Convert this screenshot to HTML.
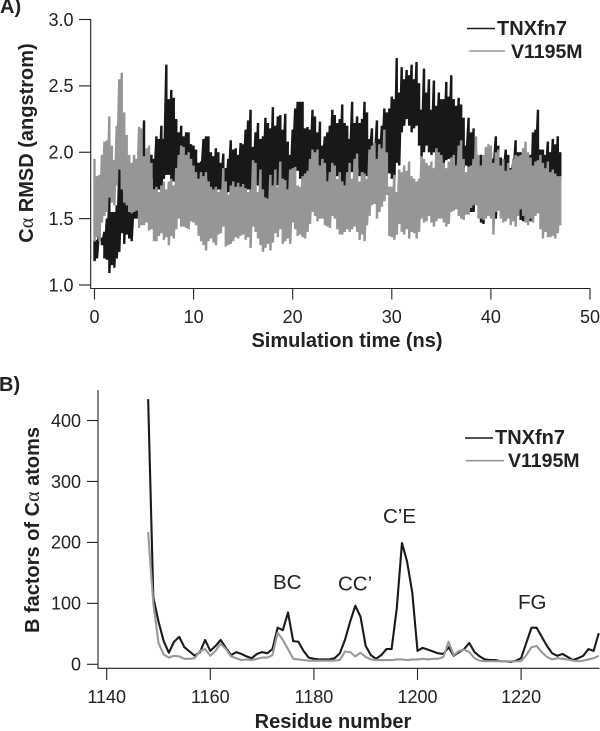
<!DOCTYPE html>
<html lang="en">
<head>
<meta charset="utf-8">
<title>RMSD and B factors chart</title>
<style>
html,body{margin:0;padding:0;background:#fff;width:600px;height:731px;overflow:hidden}
svg{display:block;font-family:"Liberation Sans",sans-serif;fill:#222}
.tick{font-size:18px}
.title{font-size:20px;font-weight:bold}
.leg{font-size:20px;font-weight:bold}
.leg2{font-size:19.5px;font-weight:bold}
.panel{font-size:20px;font-weight:bold}
.note{font-size:20.5px}
</style>
</head>
<body>
<svg id="chart" xmlns="http://www.w3.org/2000/svg" width="600" height="731" viewBox="0 0 600 731">
  <text class="panel" x="0" y="13">A)</text>
  <text class="panel" x="-1" y="391">B)</text>

  <g id="panelA"></g>
  <g id="panelB"></g>

  <text class="title" transform="translate(33,143) rotate(-90)" text-anchor="middle">C<tspan font-family="Liberation Serif" font-weight="normal">α</tspan> RMSD (angstrom)</text>
  <text class="title" x="347" y="347" text-anchor="middle">Simulation time (ns)</text>
  <text class="title" transform="translate(39,530) rotate(-90)" text-anchor="middle">B factors of C<tspan font-family="Liberation Serif" font-weight="normal">α</tspan> atoms</text>
  <text class="title" x="333" y="728" text-anchor="middle">Residue number</text>

  <g>
    <line x1="467" x2="495" y1="28.5" y2="28.5" stroke="#1a1a1a" stroke-width="1.6"/>
    <text class="leg" x="497" y="35">TNXfn7</text>
    <line x1="469" x2="505" y1="51" y2="51" stroke="#999" stroke-width="1.6"/>
    <text class="leg2" x="511" y="58">V1195M</text>
  </g>
  <g>
    <line x1="465" x2="493" y1="438" y2="438" stroke="#1a1a1a" stroke-width="1.6"/>
    <text class="leg" x="495" y="444">TNXfn7</text>
    <line x1="466" x2="504" y1="460.7" y2="460.7" stroke="#999" stroke-width="1.6"/>
    <text class="leg2" x="508" y="467">V1195M</text>
  </g>

  <text class="note" x="273" y="589">BC</text>
  <text class="note" x="338" y="590.5">CC’</text>
  <text class="note" x="383" y="523">C’E</text>
  <text class="note" x="518" y="609">FG</text>
</svg>
<script>
// Panel A: per-quarter-ns upper and lower extents of each RMSD trace (angstrom)
const rmsdStep = 0.25;
const tnxHigh = [
1.33,1.34,1.45,1.35, 1.4,1.5,1.66,1.55, 1.55,1.6,1.87,1.85, 1.7,1.93,1.8,1.75,
1.7,1.75,1.95,2.1, 2.24,1.95,2.0,1.98, 1.95,2.12,2.1,2.2, 2.1,2.66,2.4,2.47,
2.41,2.25,2.15,2.2, 2.12,2.15,2.15,2.06, 2.05,2.02,1.92,1.93, 2.1,2.12,2.12,2.0,
1.97,2.03,2.0,1.92, 1.99,1.88,1.95,2.09, 2.02,2.03,1.98,2.07, 2.06,2.17,2.24,2.32,
2.04,2.15,2.22,2.1, 2.12,2.26,2.22,2.18, 2.34,2.2,2.27,2.28, 2.17,2.29,2.08,1.98,
2.17,2.33,2.38,2.38, 2.38,2.18,2.19,2.17, 2.32,2.27,2.15,2.23, 2.05,2.12,2.15,2.2,
2.32,2.28,2.22,2.25, 2.36,2.22,2.2,2.1, 2.38,2.22,2.27,2.22, 2.25,2.38,2.3,2.1,
2.18,2.05,2.24,2.1, 2.2,2.33,2.3,2.33, 2.42,2.4,2.71,2.45, 2.64,2.55,2.62,2.58,
2.66,2.55,2.68,2.52, 2.32,2.63,2.45,2.55, 2.32,2.54,2.35,2.45, 2.4,2.4,2.53,2.42,
2.58,2.4,2.35,2.41, 2.36,2.26,2.05,2.26, 2.15,2.18,2.02,1.95, 1.98,1.95,1.95,1.98,
2.0,1.95,2.12,2.05, 1.96,1.9,2.02,1.98, 1.88,1.92,2.09,2.0, 2.0,1.95,2.0,1.97,
1.98,2.15,2.17,2.32, 2.02,2.02,1.98,2.08, 2.0,2.1,2.06,2.12, 2.0];
const tnxLow = [
1.18,1.2,1.34,1.3, 1.2,1.19,1.09,1.15, 1.13,1.2,1.25,1.39, 1.31,1.38,1.35,1.33,
1.5,1.5,1.55,1.6, 1.75,1.8,1.87,1.8, 1.72,1.7,1.72,1.7, 1.8,1.83,1.83,1.78,
1.78,1.7,1.8,1.88, 1.85,1.85,1.85,1.8, 1.78,1.8,1.75,1.78, 1.78,1.8,1.78,1.72,
1.7,1.68,1.72,1.7, 1.75,1.65,1.7,1.7, 1.68,1.72,1.72,1.7, 1.72,1.7,1.72,1.68,
1.72,1.75,1.75,1.7, 1.65,1.62,1.6,1.66, 1.75,1.75,1.75,1.72, 1.8,1.72,1.65,1.72,
1.85,1.88,1.86,1.8, 1.72,1.78,1.75,1.8, 1.8,1.75,1.7,1.7, 1.9,1.85,1.78,1.82,
1.85,1.8,1.82,1.78, 1.78,1.75,1.8,1.85, 1.85,1.85,1.88,1.82, 1.85,1.82,1.82,1.95,
1.95,1.9,1.95,1.9, 1.9,1.95,1.85,1.84, 1.8,1.75,1.92,1.9, 2.15,2.2,2.25,2.2,
2.15,2.18,2.2,2.05, 1.95,2.0,2.05,2.0, 1.98,2.0,2.0,1.95, 1.95,1.92,1.94,1.95,
1.95,1.96,1.9,1.9, 1.88,1.88,1.9,1.88, 1.55,1.55,1.9,1.85, 1.47,1.46,1.85,1.8,
1.85,1.85,1.5,1.85, 1.8,1.8,1.8,1.75, 1.8,1.8,1.8,1.82, 1.49,1.48,1.85,1.8,
1.48,1.8,1.85,1.9, 1.85,1.8,1.78,1.72, 1.7,1.73,1.72,1.75, 1.8];
const mutHigh = [
1.95,1.82,1.83,1.98, 2.08,2.09,2.27,2.05, 1.94,2.2,2.55,2.6, 2.3,2.13,1.98,1.92,
1.98,1.95,2.19,2.18, 1.97,2.03,2.05,1.92, 1.72,1.74,1.7,1.75, 1.78,1.72,1.78,1.8,
1.75,1.88,1.98,2.05, 2.04,1.98,2.0,1.95, 1.9,1.85,1.8,1.85, 1.82,1.85,1.78,1.74,
1.72,1.74,1.7,1.72, 1.88,1.78,1.68,1.75, 1.78,1.74,1.77,1.74, 1.76,1.73,1.7,1.72,
1.94,1.92,1.7,1.87, 1.72,1.66,1.65,1.83, 1.75,1.87,1.74,1.93, 1.8,1.79,1.72,1.87,
1.88,1.89,1.75,1.74, 1.82,1.84,1.86,1.95, 2.02,2.0,2.02,1.9, 1.95,1.92,1.78,1.85,
1.92,1.9,1.8,1.85, 1.78,1.75,1.85,1.92, 1.8,1.95,1.99,1.78, 1.85,1.84,1.8,2.02,
2.05,2.07,1.95,2.06, 2.03,2.17,2.0,1.74, 1.74,1.83,1.7,1.87, 1.85,1.9,1.86,1.93,
1.82,1.8,1.78,1.8, 1.97,1.95,1.92,1.9, 1.93,1.88,2.03,2.0, 1.98,1.92,1.88,1.93,
1.96,1.98,1.9,2.05, 2.09,1.95,1.85,1.89, 1.9,1.95,2.12,1.98, 1.9,1.98,2.04,2.06,
2.05,1.92,2.0,2.02, 1.9,1.95,1.86,1.92, 1.87,1.95,1.98,1.97, 1.98,2.03,2.08,2.0,
1.96,1.9,1.93,1.94, 1.98,1.92,1.88,1.93, 1.85,1.87,1.84,1.82, 1.82];
const mutLow = [
1.33,1.36,1.33,1.47, 1.52,1.55,1.66,1.62, 1.6,1.75,1.87,1.72, 1.62,1.6,1.55,1.54,
1.55,1.56,1.43,1.45, 1.45,1.47,1.41,1.42, 1.33,1.33,1.37,1.39, 1.34,1.36,1.3,1.37,
1.35,1.42,1.5,1.44, 1.44,1.43,1.42,1.48, 1.47,1.45,1.37,1.33, 1.3,1.26,1.33,1.35,
1.32,1.3,1.38,1.39, 1.44,1.29,1.3,1.31, 1.33,1.36,1.35,1.37, 1.38,1.34,1.36,1.28,
1.44,1.4,1.35,1.3, 1.25,1.28,1.31,1.26, 1.32,1.39,1.36,1.42, 1.31,1.33,1.35,1.31,
1.47,1.42,1.37,1.38, 1.36,1.35,1.4,1.46, 1.55,1.52,1.48,1.5, 1.5,1.45,1.44,1.43,
1.52,1.5,1.42,1.38, 1.38,1.4,1.42,1.4, 1.42,1.44,1.4,1.34, 1.38,1.33,1.45,1.52,
1.6,1.61,1.5,1.55, 1.59,1.63,1.68,1.37, 1.36,1.34,1.38,1.46, 1.4,1.38,1.42,1.35,
1.4,1.39,1.35,1.4, 1.5,1.47,1.48,1.52, 1.47,1.44,1.48,1.5, 1.5,1.47,1.44,1.46,
1.55,1.56,1.57,1.52, 1.5,1.49,1.53,1.53, 1.58,1.6,1.6,1.5, 1.5,1.49,1.5,1.52,
1.5,1.38,1.55,1.56, 1.5,1.47,1.48,1.5, 1.45,1.48,1.44,1.52, 1.57,1.52,1.47,1.45,
1.5,1.47,1.52,1.54, 1.42,1.35,1.4,1.36, 1.36,1.37,1.35,1.39, 1.45];
const rmsdYTicks = ["1.0","1.5","2.0","2.5","3.0"];
const rmsdXTicks = ["0","10","20","30","40","50"];

// Panel B: B factor per residue
const firstResidue = 1148;
const tnxBFactor = [
435,110,70,38,19, 37,45,28,21,14, 20,40,22,30,40, 27,15,20,17,13,
10,17,20,18,25, 60,56,85,38,37, 22,11,9,8,8, 8,10,18,40,70,
96,78,30,15,9, 15,25,25,92,199, 168,117,22,27,24, 21,18,17,28,14,
20,25,35,20,13, 8,7,7,5,5, 4,6,10,35,60, 60,45,30,18,14,
17,12,7,10,14, 25,22,51];
const mutBFactor = [
217,100,35,16,11, 14,13,9,9,10, 22,25,14,22,34, 25,13,10,7,8,
7,9,11,11,15, 52,40,25,9,8, 7,6,6,6,6, 6,6,7,21,20,
13,19,12,8,7, 7,7,7,8,8, 7,8,8,9,8, 9,9,12,37,15,
22,24,20,10,6, 5,5,5,5,5, 5,5,5,15,28, 30,20,12,8,10,
9,8,6,5,6, 8,10,14];
const bfYTicks = ["0","100","200","300","400"];
const bfXTicks = ["1140","1160","1180","1200","1220"];

const NS = "http://www.w3.org/2000/svg";
const xA = t => 94.5 + t * 9.91;
const yA = v => 285 - (v - 1) * 132.75;
const xB = r => 106.7 + (r - 1140) * 5.18;
const yB = v => 664.3 - v * 0.6095;

function make(parent, tag, attrs, text) {
  const el = document.createElementNS(NS, tag);
  for (const k in attrs) el.setAttribute(k, attrs[k]);
  if (text !== undefined) el.textContent = text;
  parent.appendChild(el);
  return el;
}

function rangePath(high, low) {
  let d = "";
  high.forEach((h, i) => {
    const x = xA(i * rmsdStep).toFixed(2);
    d += (i ? "L" : "M") + x + " " + yA(h).toFixed(2);
    d += "L" + x + " " + yA(low[i]).toFixed(2);
  });
  return d;
}

function seriesPath(values) {
  return values.map((v, i) => (i ? "L" : "M") + xB(firstResidue + i).toFixed(2) + " " + yB(v).toFixed(2)).join("");
}

const gA = document.getElementById("panelA");
const gB = document.getElementById("panelB");
const axisStyle = { stroke: "#222", "stroke-width": 1.1, fill: "none" };

// Panel A traces
let el = make(gA, "path", { d: rangePath(tnxHigh, tnxLow), stroke: "#181818", "stroke-width": 2.4, fill: "none", "stroke-linejoin": "bevel" });


el = make(gA, "path", { d: rangePath(mutHigh, mutLow), stroke: "#969696", "stroke-width": 2.4, fill: "none", "stroke-linejoin": "bevel" });



// Panel A axes
el = make(gA, "line", Object.assign({ x1: 90.7, x2: 90.7, y1: yA(3), y2: 288.5 }, axisStyle));


el = make(gA, "line", Object.assign({ x1: 90.2, x2: xA(50) + 0.5, y1: 288.5, y2: 288.5 }, axisStyle));



rmsdYTicks.forEach(label => {
  const y = yA(parseFloat(label));
  const tick = make(gA, "line", Object.assign({ x1: 79, x2: 91, y1: y, y2: y }, axisStyle));
  
  
  const txt = make(gA, "text", { class: "tick", x: 73.5, y: y + 6.3, "text-anchor": "end" }, label);
  
  
});
rmsdXTicks.forEach(label => {
  const x = xA(parseFloat(label));
  const tick = make(gA, "line", Object.assign({ x1: x, x2: x, y1: 288.5, y2: 299.5 }, axisStyle));
  
  
  const txt = make(gA, "text", { class: "tick", x: x, y: 323, "text-anchor": "middle" }, label);
  
  
});

// Panel B traces
el = make(gB, "path", { d: seriesPath(tnxBFactor), stroke: "#1a1a1a", "stroke-width": 2.1, fill: "none", "stroke-linejoin": "round" });


el = make(gB, "path", { d: seriesPath(mutBFactor), stroke: "#999", "stroke-width": 2.1, fill: "none", "stroke-linejoin": "round" });



// Panel B axes
el = make(gB, "line", Object.assign({ x1: 98, x2: 98, y1: 390, y2: 668.5 }, axisStyle));


el = make(gB, "line", Object.assign({ x1: 97.5, x2: 599.5, y1: 668.3, y2: 668.3 }, axisStyle));



bfYTicks.forEach(label => {
  const y = yB(parseFloat(label));
  const tick = make(gB, "line", Object.assign({ x1: 87, x2: 98, y1: y, y2: y }, axisStyle));
  
  
  const txt = make(gB, "text", { class: "tick", x: 81, y: y + 6.3, "text-anchor": "end" }, label);
  
  
});
bfXTicks.forEach(label => {
  const x = xB(parseFloat(label));
  const tick = make(gB, "line", Object.assign({ x1: x, x2: x, y1: 668.3, y2: 680 }, axisStyle));
  
  
  const txt = make(gB, "text", { class: "tick", x: x, y: 703, "text-anchor": "middle" }, label);
  
  
});
</script>
</body>
</html>
